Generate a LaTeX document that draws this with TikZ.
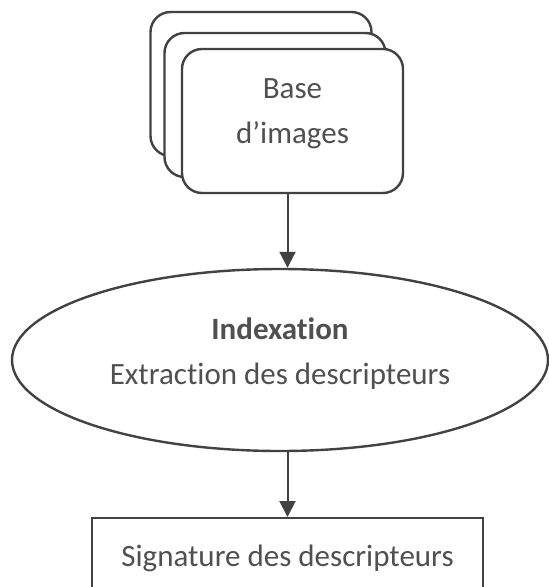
\documentclass[tikz,border=0pt]{standalone}
\usepackage{fontspec}
\setmainfont[Ligatures=NoCommon]{Carlito}
\usepackage{tikz}
\usetikzlibrary{arrows.meta}
\usetikzlibrary{shapes.geometric}

\definecolor{linegray}{HTML}{424242}
\definecolor{textgray}{HTML}{505050}

\tikzset{
    card/.style={draw=linegray, line width=2.4pt, fill=white, rounded corners=20pt,
        minimum width=221pt, minimum height=144pt, inner sep=0pt, align=center},
    procell/.style={draw=linegray, line width=2.4pt, ellipse, minimum width=536pt,
        minimum height=182pt, inner sep=0pt, align=center},
    outbox/.style={draw=linegray, line width=2pt, minimum width=391pt,
        minimum height=80pt, inner sep=0pt},
    flow/.style={draw=linegray, line width=2pt, -{Triangle[length=16pt,width=16pt]}},
}

\begin{document}
\begin{tikzpicture}[x=1pt, y=-1pt, font=\fontsize{31}{45}\selectfont, text=textgray]
    \useasboundingbox (0, 0) rectangle (549, 587); % page size
    % stack of images
    \node[card] (base3) at (261, 84) {};
    \node[card] (base2) at (275, 105) {};
    \node[card, text depth=20pt] (base) at (292.5, 121) {Base\\d'images};
    \node[procell, text depth=18pt] (index) at (280, 360) {\textbf{Indexation}\\Extraction des descripteurs};
    \node[outbox] (sig) at (287.5, 558) {Signature des descripteurs};
    \draw[flow] (base.south -| sig.north) -- (index.north -| sig.north);
    \draw[flow] (index.south -| sig.north) -- (sig.north);
\end{tikzpicture}
\end{document}
